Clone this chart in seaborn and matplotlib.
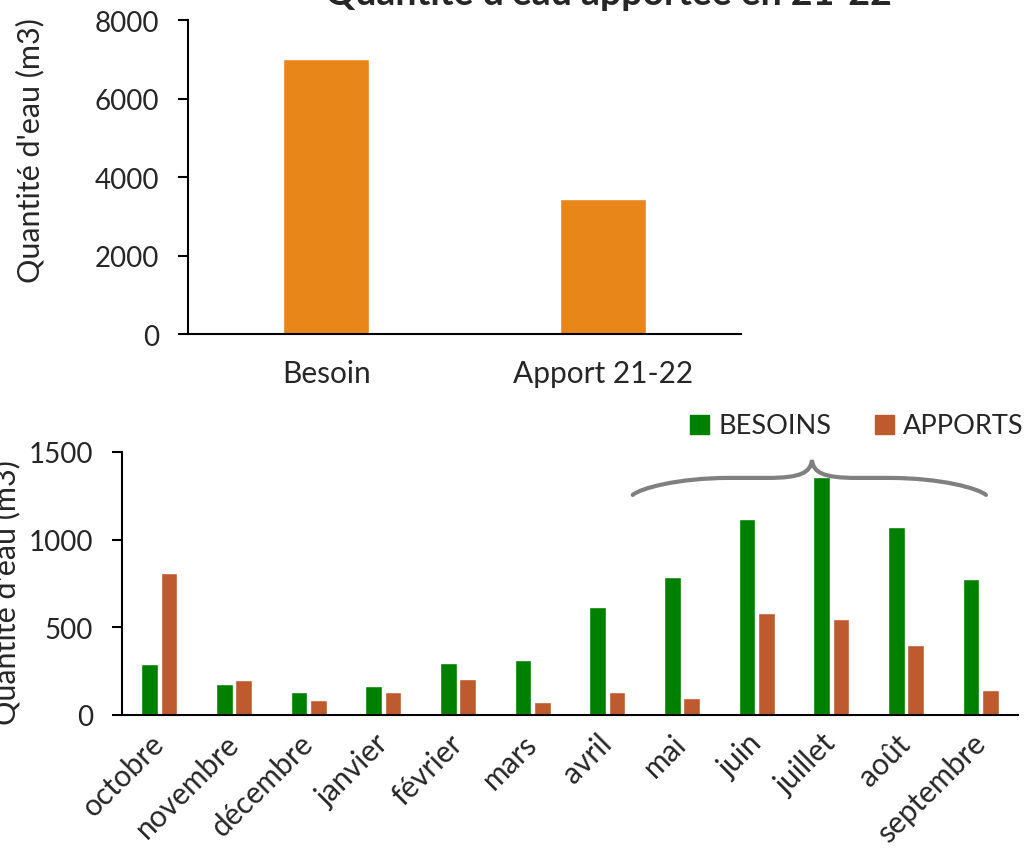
import numpy as np
import pandas as pd
import seaborn as sns
import matplotlib.pyplot as plt
from matplotlib.path import Path
from matplotlib.patches import PathPatch, Patch

# --- Data ---
top_labels = ['Besoin', 'Apport 21-22']
top_values = [7000, 3450]

months = ['octobre', 'novembre', 'décembre', 'janvier', 'février', 'mars',
          'avril', 'mai', 'juin', 'juillet', 'août', 'septembre']
besoins = [288, 174, 129, 163, 299, 311, 617, 788, 1117, 1356, 1072, 776]
apports = [811, 197, 83, 129, 208, 72, 129, 95, 583, 549, 401, 140]

TITLE = "Quantité d'eau apportée en 21-22"
YLABEL = "Quantité d'eau (m3)"
ORANGE = '#E8861A'
GREEN = '#008000'
RUST = '#BE5A2D'

sns.set_style('white')
plt.rcParams['font.family'] = ['Lato', 'DejaVu Sans']

fig = plt.figure(figsize=(10.25, 8.54), dpi=100)
ax1 = fig.add_axes([0.1834, 0.6077, 0.5395, 0.3677])
ax2 = fig.add_axes([0.1190, 0.1616, 0.8742, 0.3080])


def excel_axes(ax, n):
    for s in ['top', 'right']:
        ax.spines[s].set_visible(False)
    for s in ['left', 'bottom']:
        ax.spines[s].set_linewidth(1.5)
        ax.spines[s].set_color('black')
    ax.set_xlim(-0.5, n - 0.5)
    # tick marks between categories, labels on categories
    ax.set_xticks(np.arange(-0.5, n, 1.0), minor=True)
    ax.tick_params(axis='x', which='major', length=0)
    ax.tick_params(axis='x', which='minor', length=7, width=1.5, direction='out', color='black')
    ax.tick_params(axis='y', length=7, width=1.5, direction='out', color='black', pad=14,
                   labelsize=20, left=True)
    ax.set_xlabel('')


# --- Top chart ---
top_df = pd.DataFrame({'cat': top_labels, 'val': top_values})
sns.barplot(data=top_df, x='cat', y='val', color=ORANGE, width=0.31,
            saturation=1, ax=ax1)
excel_axes(ax1, len(top_labels))
ax1.set_ylim(0, 8000)
ax1.set_yticks(np.arange(0, 8001, 2000))
ax1.tick_params(axis='x', which='major', labelsize=21.5, pad=18)
ax1.set_ylabel(YLABEL, fontsize=22)
ax1.yaxis.set_label_coords(-0.259, 0.586)
fig.text(608 / 1025, 1 - 5 / 854, TITLE, ha='center', va='baseline',
         fontsize=27, fontweight='bold')

# --- Bottom chart ---
df = pd.DataFrame({
    'mois': months * 2,
    'val': besoins + apports,
    'serie': ['BESOINS'] * len(months) + ['APPORTS'] * len(months),
})
sns.barplot(data=df, x='mois', y='val', hue='serie', order=months,
            palette={'BESOINS': GREEN, 'APPORTS': RUST}, width=0.52, gap=0.15,
            saturation=1, ax=ax2, legend=False)
excel_axes(ax2, len(months))
ax2.set_ylim(0, 1500)
ax2.set_yticks([0, 500, 1000, 1500])
ax2.set_ylabel(YLABEL, fontsize=22)
ax2.yaxis.set_label_coords(-0.113, 0.468)
ax2.tick_params(axis='x', which='major', pad=17)
for lab in ax2.get_xticklabels():
    lab.set_rotation(45)
    lab.set_ha('right')
    lab.set_va('center')
    lab.set_rotation_mode('anchor')
    lab.set_fontsize(21.5)

handles = [Patch(color=GREEN), Patch(color=RUST)]
fig.legend(handles, ['BESOINS', 'APPORTS'], loc='center right',
           bbox_to_anchor=(1024 / 1025, 1 - 427 / 854), ncol=2, frameon=False,
           fontsize=19.5, handlelength=0.7, handleheight=0.7,
           handletextpad=0.36, columnspacing=1.6, borderpad=0, borderaxespad=0)

# --- Curly brace over mai..septembre ---
x0, x1 = 6.34, 11.07
xm = 8.74
y_end, y_body, y_tip = 1255, 1352, 1454
verts = [
    (x0, y_end),
    (x0 + 0.1, y_body - 60), (x0 + 0.6, y_body), (x0 + 1.3, y_body),
    (xm - 0.6, y_body),
    (xm - 0.15, y_body), (xm - 0.02, y_body + 30), (xm, y_tip),
    (xm + 0.02, y_body + 30), (xm + 0.15, y_body), (xm + 0.6, y_body),
    (x1 - 1.3, y_body),
    (x1 - 0.6, y_body), (x1 - 0.1, y_body - 60), (x1, y_end),
]
codes = [Path.MOVETO,
         Path.CURVE4, Path.CURVE4, Path.CURVE4,
         Path.LINETO,
         Path.CURVE4, Path.CURVE4, Path.CURVE4,
         Path.CURVE4, Path.CURVE4, Path.CURVE4,
         Path.LINETO,
         Path.CURVE4, Path.CURVE4, Path.CURVE4]
brace = PathPatch(Path(verts, codes), facecolor='none', edgecolor='#808080',
                  linewidth=3, capstyle='round', clip_on=False)
ax2.add_patch(brace)

fig.savefig('out.png', dpi=100)
